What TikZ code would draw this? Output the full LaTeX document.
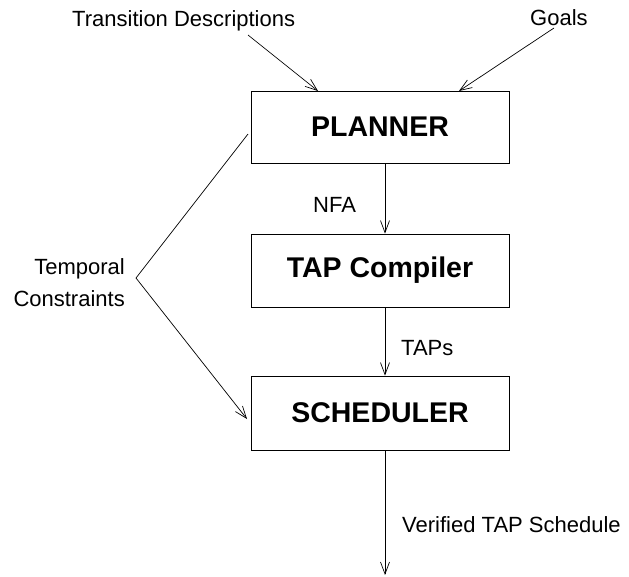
\documentclass[tikz,border=0pt]{standalone}
\usepackage{fontspec}
\setmainfont{Liberation Sans}
\usetikzlibrary{arrows.meta}
\newcommand{\labelfont}{\fontsize{22}{32}\selectfont}
\newcommand{\boxfont}{\fontsize{28.5}{34}\selectfont\bfseries}
\tikzset{
  stage/.style={draw, line width=0.8pt, minimum width=258pt, inner sep=0pt, font=\boxfont},
  flow/.style={line width=0.7pt, -{Straight Barb[length=12pt,width=9pt]}},
  tag/.style={inner sep=0pt, font=\labelfont}
}

\begin{document}
\begin{tikzpicture}[x=1pt,y=-1pt]
\useasboundingbox (0,0) rectangle (629,576);
% the three stages
\node[stage, minimum height=72pt] (planner) at (380,127) {PLANNER};
\node[stage, minimum height=73pt] (tapc) at (380,270.5) {TAP Compiler};
\node[stage, minimum height=74pt] (sched) at (380,413) {SCHEDULER};
% inputs
\node[tag, anchor=base west] (trans) at (72,26) {Transition Descriptions};
\node[tag, anchor=base west] (goals) at (530,25) {Goals};
\node[tag, anchor=east, align=right] (temp) at (125,283) {Temporal\\Constraints};
\coordinate (transend) at (318,91);
\coordinate (goalsend) at (459,91);
\draw[flow] (248,35) -- (transend);
\draw[flow] (554,28) -- (goalsend);
\coordinate (tempv) at (136,278);
\coordinate (tempup) at (248,134);
\coordinate (tempend) at (247,419);
\draw[line width=0.7pt] (tempup) -- (tempv);
\draw[flow] (tempv) -- (tempend);
% main flow
\coordinate (out) at (385,575);
\draw[flow] ([xshift=5pt]planner.south) -- ([xshift=5pt]tapc.north);
\draw[flow] ([xshift=5pt]tapc.south) -- ([xshift=5pt]sched.north);
\draw[flow] ([xshift=5pt]sched.south) -- (out);
\node[tag, anchor=base west] (nfa) at (313,212) {NFA};
\node[tag, anchor=base west] (taps) at (401,355) {TAPs};
\node[tag, anchor=base west] (verified) at (402,532) {Verified TAP Schedule};
\end{tikzpicture}
\end{document}
